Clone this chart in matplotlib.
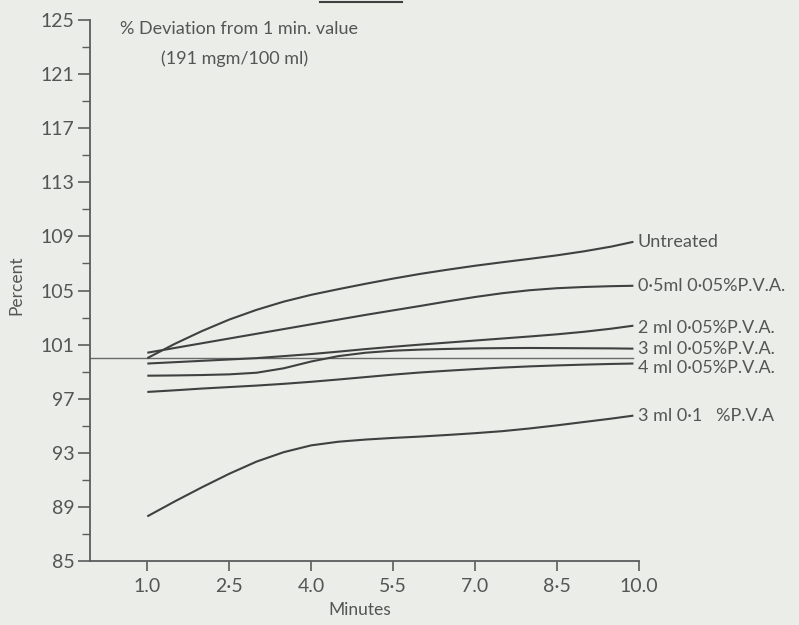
import matplotlib
matplotlib.use("Agg")
import matplotlib.pyplot as plt
from matplotlib.lines import Line2D

# -------------------------------------------------------
# DATOS
# -------------------------------------------------------
minutes = [1.0, 1.5, 2.0, 2.5, 3.0, 3.5, 4.0, 4.5, 5.0, 5.5,
           6.0, 6.5, 7.0, 7.5, 8.0, 8.5, 9.0, 9.5, 9.9]

untreated = [100.0, 101.05, 102.0, 102.85, 103.57, 104.18, 104.68, 105.1, 105.5, 105.88,
             106.23, 106.54, 106.83, 107.09, 107.34, 107.6, 107.9, 108.25, 108.6]
pva_05ml = [100.4, 100.75, 101.1, 101.45, 101.8, 102.15, 102.5, 102.85, 103.2, 103.53,
            103.86, 104.2, 104.52, 104.8, 105.02, 105.17, 105.26, 105.32, 105.35]
pva_2ml = [99.6, 99.7, 99.8, 99.9, 100.0, 100.15, 100.3, 100.48, 100.67, 100.84,
           101.0, 101.15, 101.3, 101.45, 101.6, 101.76, 101.95, 102.18, 102.4]
pva_3ml = [98.7, 98.72, 98.75, 98.8, 98.92, 99.25, 99.75, 100.15, 100.4, 100.55,
           100.63, 100.68, 100.72, 100.74, 100.75, 100.74, 100.73, 100.72, 100.7]
pva_4ml = [97.5, 97.62, 97.75, 97.86, 97.97, 98.1, 98.25, 98.42, 98.6, 98.78,
           98.94, 99.07, 99.19, 99.3, 99.39, 99.46, 99.52, 99.57, 99.6]
pva_01_3ml = [88.3, 89.4, 90.45, 91.45, 92.35, 93.05, 93.55, 93.82, 93.98, 94.1,
              94.2, 94.32, 94.45, 94.6, 94.8, 95.03, 95.28, 95.53, 95.75]

series_labels = ["Untreated", "0·5ml 0·05%P.V.A.", "2 ml 0·05%P.V.A.",
                 "3 ml 0·05%P.V.A.", "4 ml 0·05%P.V.A.", "3 ml 0·1   %P.V.A"]

reference_value = 100.0
x_ticks = [1.0, 2.5, 4.0, 5.5, 7.0, 8.5, 10.0]
x_tick_labels = ["1.0", "2·5", "4.0", "5·5", "7.0", "8·5", "10.0"]
y_major = list(range(85, 126, 4))
y_minor = list(range(87, 124, 4))

# -------------------------------------------------------
# ESTILO
# -------------------------------------------------------
BG = "#ebede8"
INK = "#404040"
TXT = "#555555"
plt.rcParams['font.family'] = ['Lato', 'DejaVu Sans']

fig = plt.figure(figsize=(7.99, 6.25), dpi=100, facecolor=BG)
ax = fig.add_axes([0.1126, 0.1024, 0.687, 0.8656], facecolor=BG)

# linea de referencia (100 %)
ax.plot([-0.05, 9.9], [reference_value, reference_value], color="#6a6a6a", lw=1.0)

all_series = [untreated, pva_05ml, pva_2ml, pva_3ml, pva_4ml, pva_01_3ml]
label_dy = [0, 0, -1.5, 0, -3, 0]   # ajuste vertical de etiquetas (pt)
for vals, lab, dy in zip(all_series, series_labels, label_dy):
    ax.plot(minutes, vals, color=INK, lw=1.5, solid_capstyle='butt')
    ax.annotate(lab, xy=(minutes[-1], vals[-1]), xytext=(3, dy),
                textcoords='offset points', va='center', ha='left',
                fontsize=13, color=TXT, annotation_clip=False)

ax.set_xlim(-0.05, 10.0)
ax.set_ylim(85, 125)

for side in ['top', 'right']:
    ax.spines[side].set_visible(False)
for side in ['left', 'bottom']:
    ax.spines[side].set_color("#5c5c5c")
    ax.spines[side].set_linewidth(1.3)

ax.set_xticks(x_ticks)
ax.set_xticklabels(x_tick_labels)
ax.set_yticks(y_major)
ax.set_yticks(y_minor, minor=True)
ax.tick_params(axis='x', direction='out', length=7, width=1.2, colors="#5c5c5c",
               labelcolor=TXT, labelsize=14, pad=5)
ax.tick_params(axis='y', which='major', direction='out', length=9, width=1.2,
               colors="#5c5c5c", labelcolor=TXT, labelsize=14, pad=2)
ax.tick_params(axis='y', which='minor', direction='out', length=6, width=1.0,
               colors="#5c5c5c")

fig.text(0.020, 0.544, "Percent", rotation=90, ha='center', va='center',
         fontsize=12.5, color=TXT)
fig.text(0.4506, 0.024, "Minutes", ha='center', va='center', fontsize=12.5, color=TXT)

fig.text(0.150, 0.953, "% Deviation from 1 min. value", ha='left', va='center',
         fontsize=13, color=TXT)
fig.text(0.294, 0.906, "(191 mgm/100 ml)", ha='center', va='center',
         fontsize=13, color=TXT)

# trozo de subrayado del texto de arriba (escaneo)
fig.add_artist(Line2D([0.40, 0.503], [0.997, 0.997], color=INK, lw=1.5))

fig.savefig("out.png", dpi=100, facecolor=BG)
